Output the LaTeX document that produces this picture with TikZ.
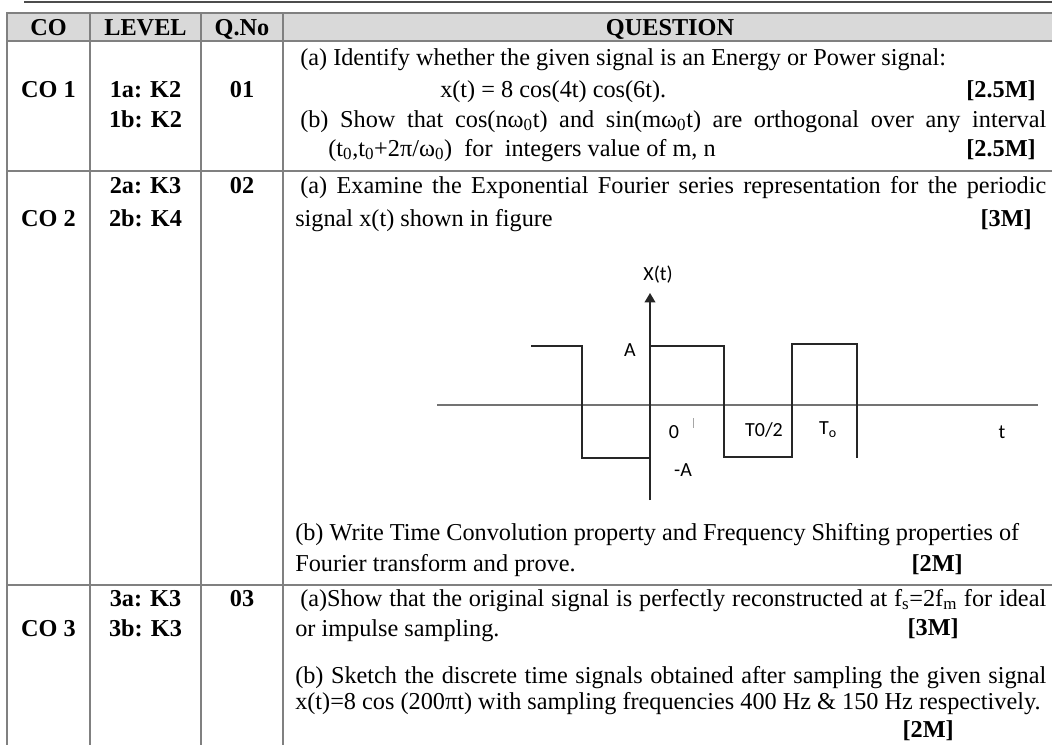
\documentclass[tikz,border=0pt]{standalone}
\usepackage{fontspec}
\setmainfont{Liberation Serif}
\newfontfamily\figfont{Carlito}
\usetikzlibrary{arrows.meta}
\tikzset{
  tx/.style={anchor=base west, inner sep=0pt, font=\fontsize{18.2}{22}\selectfont},
  tb/.style={anchor=base, inner sep=0pt, font=\bfseries\fontsize{18.2}{22}\selectfont},
  mk/.style={anchor=base east, inner sep=0pt, font=\bfseries\fontsize{18.2}{22}\selectfont},
  lab/.style={inner sep=0pt, font=\figfont\fontsize{15}{18}\selectfont},
  gridline/.style={draw=black!50, line width=1.3pt},
  sig/.style={draw=black!85, line width=1.1pt},
  axisline/.style={draw=black!55, line width=1.1pt},
}
\begin{document}
\begin{tikzpicture}[x=0.75pt,y=-0.75pt]
\clip (0,0) rectangle (1052,744);
\fill[white] (0,0) rectangle (1052,744);
% top rule
\draw[draw=black!70, line width=1.5pt] (24,2) -- (1052,2);
% header fill
\fill[black!15] (7,13) rectangle (1057,41);
% grid
\draw[gridline] (7,760) -- (7,13) -- (1057,13) -- (1057,760);
\draw[gridline] (7,41) -- (1057,41);
\draw[gridline] (7,171) -- (1057,171);
\draw[gridline] (7,585) -- (1057,585);
\draw[gridline] (90,13) -- (90,760);
\draw[gridline] (201,13) -- (201,760);
\draw[gridline] (283,13) -- (283,760);
% header
\node[tb] (hco) at (48.5,35) {CO};
\node[tb] (hlev) at (145.5,35) {LEVEL};
\node[tb] (hq) at (242,35) {Q.No};
\node[tb] (hques) at (670,35) {QUESTION};
% row 1
\node[tb] (co1) at (48.5,97) {CO 1};
\node[tb] (l1a) at (145.5,97) {1a: K2};
\node[tb] (l1b) at (145.5,127) {1b: K2};
\node[tb] (q1) at (242,97) {01};
\node[tx] (r1a) at (300,65) {(a) Identify whether the given signal is an Energy or Power signal:};
\node[tx] (r1x) at (440,97) {x(t) = 8 cos(4t) cos(6t).};
\node[mk] (r1m1) at (1036,97) {[2.5M]};
\node[tx] (r1b) at (300,127) {\makebox[559.5pt][s]{(b) Show that cos(nω\textsubscript{0}t) and sin(mω\textsubscript{0}t) are orthogonal over any interval}};
\node[tx] (r1c) at (328,156) {(t\textsubscript{0},t\textsubscript{0}+2π/ω\textsubscript{0})\ \ for\ \ integers value of m, n};
\node[mk] (r1m2) at (1036,156) {[2.5M]};
% row 2
\node[tb] (co2) at (48.5,226) {CO 2};
\node[tb] (l2a) at (145.5,193) {2a: K3};
\node[tb] (l2b) at (145.5,226) {2b: K4};
\node[tb] (q2) at (242,193) {02};
\node[tx] (r2a) at (300,193) {\makebox[559.5pt][s]{(a) Examine the Exponential Fourier series representation for the periodic}};
\node[tx] (r2s) at (295,226) {signal x(t) shown in figure};
\node[mk] (r2m1) at (1032,226) {[3M]};
\node[tx] (r2b) at (295,540) {(b) Write Time Convolution property and Frequency Shifting properties of};
\node[tx] (r2f) at (295,571) {Fourier transform and prove.};
\node[mk] (r2m2) at (963,571) {[2M]};
% figure
\draw[axisline] (437,405) -- (1038,405);
\draw[sig] (531,346) -- (582,346) -- (582,458) -- (650,458);
\draw[sig] (650,346) -- (724,346) -- (724,457) -- (792,457) -- (792,344) -- (857,344) -- (857,458);
\draw[sig,-{Triangle[length=7pt,width=8pt]}] (650,500) -- (650,293);
\draw[draw=black!35, line width=0.5pt] (693,418) -- (693,428);
\node[lab] (fx) at (658,275) {X(t)};
\node[lab] (fa) at (630,350) {A};
\node[lab] (f0) at (674,432) {0};
\node[lab] (fth) at (764,430) {T0/2};
\node[lab] (fto) at (828,430) {T\textsubscript{o}};
\node[lab] (ft) at (1002,432) {t};
\node[lab] (fma) at (683,470) {-A};
% row 3
\node[tb] (co3) at (48.5,636) {CO 3};
\node[tb] (l3a) at (145.5,606) {3a: K3};
\node[tb] (l3b) at (145.5,636) {3b: K3};
\node[tb] (q3) at (242,606) {03};
\node[tx] (r3a) at (300,606) {\makebox[559.5pt][s]{(a)Show that the original signal is perfectly reconstructed at f\textsubscript{s}=2f\textsubscript{m} for ideal}};
\node[tx] (r3o) at (295,636) {or impulse sampling.};
\node[mk] (r3m1) at (959,635) {[3M]};
\node[tx] (r3b) at (295,683) {\makebox[563.25pt][s]{(b) Sketch the discrete time signals obtained after sampling the given signal}};
\node[tx] (r3x) at (295,709) {x(t)=8 cos (200πt) with sampling frequencies 400 Hz \& 150 Hz respectively.};
\node[mk] (r3m2) at (954,737) {[2M]};
\end{tikzpicture}
\end{document}
